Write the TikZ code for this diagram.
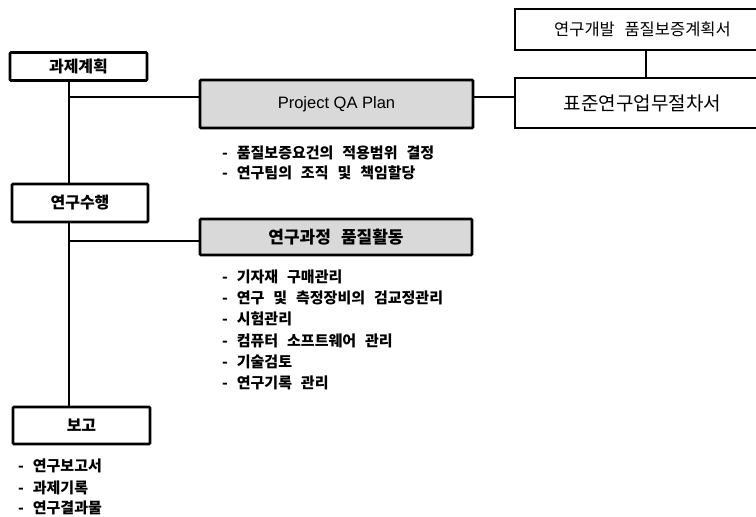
\documentclass[tikz,border=0pt]{standalone}
\usepackage{fontspec}
\setmainfont{Noto Sans CJK KR}
\newfontfamily\kr{Noto Sans CJK KR}[WordSpace=2]
\newfontfamily\kri{Noto Sans CJK KR}[WordSpace=2.6]
\newfontfamily\lat{Liberation Sans}
\begin{document}
\begin{tikzpicture}[x=1pt,y=-1pt,
  box/.style={draw, line width=2.6pt, rounded corners=1pt, inner sep=0pt,
    font=\kr\bfseries\fontsize{16}{18}\selectfont},
  shaded/.style={box, fill=black!15},
  thinbox/.style={draw, line width=2pt, inner sep=0pt},
  conn/.style={line width=2.5pt},
  item/.style={anchor=west, inner sep=0pt, font=\kri\bfseries\fontsize{15}{17}\selectfont}]
\useasboundingbox (0,0) rectangle (756,517);
\fill[white] (0,0) rectangle (756,517);
% left column boxes
\node[box, minimum width=137pt, minimum height=28pt] (kwaje) at (78.5,66.5) {과제계획};
\node[box, minimum width=136pt, minimum height=38pt] (exec) at (80,203) {연구수행};
\node[box, minimum width=137pt, minimum height=37pt] (report) at (81.5,425.5) {보고};
% shaded boxes
\node[shaded, minimum width=273pt, minimum height=48pt,
  font=\lat\fontsize{16.5}{18}\selectfont] (qa) at (336.5,104) {Project QA Plan};
\node[shaded, minimum width=272pt, minimum height=36pt,
  font=\kr\bfseries\fontsize{17}{19}\selectfont] (act) at (336,237) {연구과정 품질활동};
% right boxes
\node[thinbox, minimum width=255pt, minimum height=41pt,
  font=\kr\fontsize{16.5}{18}\selectfont] (rnd) at (642.5,29.5) {연구개발 품질보증계획서};
\node[thinbox, minimum width=255pt, minimum height=50pt,
  font=\kr\fontsize{19}{21}\selectfont] (std) at (642.5,103) {표준연구업무절차서};
% junctions
\coordinate (spine) at (69,0);
\coordinate (j1) at (69,97);
\coordinate (j2) at (69,241);
\coordinate (vx) at (646,0);
% connectors
\draw[conn] (kwaje.south -| spine) -- (exec.north -| spine);
\draw[conn] (exec.south -| spine) -- (report.north -| spine);
\draw[conn] (j1) -- (j1 -| qa.west);
\draw[conn] (j1 -| qa.east) -- (j1 -| std.west);
\draw[conn] (j2) -- (j2 -| act.west);
\draw[conn] (rnd.south -| vx) -- (std.north -| vx);
% lists
\node[item] (q1) at (222,153) {- 품질보증요건의 적용범위 결정};
\node[item] (q2) at (222,173) {- 연구팀의 조직 및 책임할당};
\node[item] (a1) at (222,276.7) {- 기자재 구매관리};
\node[item] (a2) at (222,297.5) {- 연구 및 측정장비의 검교정관리};
\node[item] (a3) at (222,319) {- 시험관리};
\node[item] (a4) at (222,340.5) {- 컴퓨터 소프트웨어 관리};
\node[item] (a5) at (222,362) {- 기술검토};
\node[item] (a6) at (222,383.3) {- 연구기록 관리};
\node[item] (r1) at (18,465.7) {- 연구보고서};
\node[item] (r2) at (18,487.5) {- 과제기록};
\node[item] (r3) at (18,508.3) {- 연구결과물};
\end{tikzpicture}
\end{document}
